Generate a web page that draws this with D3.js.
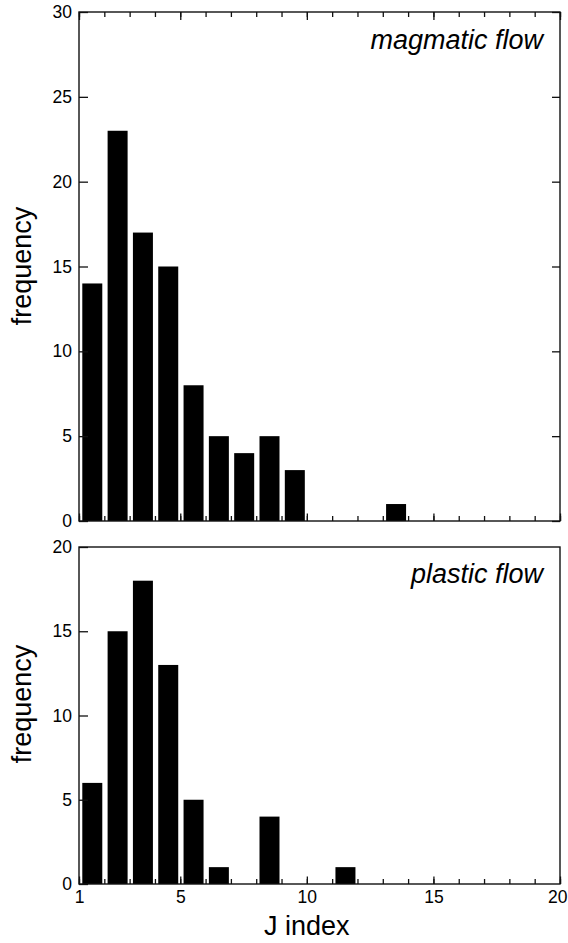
<!DOCTYPE html>
<html>
<head>
<meta charset="utf-8">
<script src="https://cdn.jsdelivr.net/npm/d3@7"></script>
<style>
  html, body { margin: 0; padding: 0; background: #fff; }
  svg { display: block; }
  text { font-family: "Liberation Sans", Arial, Helvetica, sans-serif; fill: #000; }
</style>
</head>
<body>
<svg id="chart" width="568" height="943"></svg>
<script>
// ---- data ----
const binStarts = [1,2,3,4,5,6,7,8,9,10,11,12,13,14,15,16,17,18,19];
const magmaticCounts = [14,23,17,15,8,5,4,5,3,0,0,0,1,0,0,0,0,0,0];
const plasticCounts  = [6,15,18,13,5,1,0,4,0,0,1,0,0,0,0,0,0,0,0];
const xMajorTicks = [1,5,10,15,20];
const xMinorTicks = d3.range(1, 21);
const topYTicks = [0,5,10,15,20,25,30];
const bottomYTicks = [0,5,10,15,20];
const topLabel = "magmatic flow";
const bottomLabel = "plastic flow";
const yTitle = "frequency";
const xTitle = "J index";

const svg = d3.select("#chart");
const left = 79, right = 560;
const tickFont = 17.5;

const x = d3.scaleLinear().domain([1, 20]).range([left, right]);

function panel(cfg) {
  const y = d3.scaleLinear().domain([0, cfg.yMax]).range([cfg.bottom, cfg.top]);
  const g = svg.append("g");

  // bars
  const data = binStarts.map((b, i) => ({bin: b, v: cfg.counts[i]})).filter(d => d.v > 0);
  g.selectAll("rect.bar").data(data).enter().append("rect")
    .attr("class", "bar")
    .attr("x", d => x(d.bin + 0.13))
    .attr("width", d => x(d.bin + 0.92) - x(d.bin + 0.13))
    .attr("y", d => y(d.v))
    .attr("height", d => y(0) - y(d.v))
    .attr("fill", "#000");

  // left axis
  const la = g.append("g").attr("transform", `translate(${left},0)`)
    .call(d3.axisLeft(y).tickValues(cfg.yTicks).tickSizeInner(-9).tickSizeOuter(0).tickPadding(7));
  la.select(".domain").remove();
  la.selectAll("text").attr("font-size", tickFont).style("font-family", "Liberation Sans, Arial, sans-serif");

  if (cfg.mirror) {
    const ra = g.append("g").attr("transform", `translate(${right},0)`)
      .call(d3.axisRight(y).tickValues(cfg.yTicks).tickSizeInner(-8).tickSizeOuter(0).tickFormat(""));
    ra.select(".domain").remove();
    const ta1 = g.append("g").attr("transform", `translate(0,${cfg.top})`)
      .call(d3.axisTop(x).tickValues(xMinorTicks).tickSizeInner(-5).tickSizeOuter(0).tickFormat(""));
    ta1.select(".domain").remove();
    const ta2 = g.append("g").attr("transform", `translate(0,${cfg.top})`)
      .call(d3.axisTop(x).tickValues(xMajorTicks).tickSizeInner(-8).tickSizeOuter(0).tickFormat(""));
    ta2.select(".domain").remove();
  }

  // bottom axis
  const ba1 = g.append("g").attr("transform", `translate(0,${cfg.bottom})`)
    .call(d3.axisBottom(x).tickValues(xMinorTicks).tickSizeInner(-5).tickSizeOuter(0).tickFormat(""));
  ba1.select(".domain").remove();
  const ba2 = g.append("g").attr("transform", `translate(0,${cfg.bottom})`)
    .call(d3.axisBottom(x).tickValues(xMajorTicks).tickSizeInner(-7.5).tickSizeOuter(0).tickPadding(7)
      .tickFormat(cfg.labels ? d3.format("d") : ""));
  ba2.select(".domain").remove();
  ba2.selectAll("text").attr("font-size", tickFont).style("font-family", "Liberation Sans, Arial, sans-serif");
  // keep the last label inside the page edge
  ba2.selectAll("text").filter(d => d === 20)
    .attr("text-anchor", "end").attr("x", 567 - right);

  g.selectAll(".tick line").attr("stroke", "#111").attr("stroke-width", 1.3);

  // frame
  g.append("rect")
    .attr("x", left).attr("y", cfg.top)
    .attr("width", right - left).attr("height", cfg.bottom - cfg.top)
    .attr("fill", "none").attr("stroke", "#111").attr("stroke-width", 1.4);

  // panel label
  g.append("text")
    .attr("x", 543).attr("y", cfg.labelY)
    .attr("text-anchor", "end")
    .attr("font-size", 27).attr("font-style", "italic")
    .text(cfg.label);

  // y title
  g.append("text")
    .attr("transform", `translate(31,${cfg.titleY}) rotate(-90)`)
    .attr("text-anchor", "middle")
    .attr("font-size", 27)
    .text(yTitle);
}

panel({counts: magmaticCounts, yMax: 30, yTicks: topYTicks, top: 12, bottom: 521,
       mirror: true, labels: false, label: topLabel, labelY: 49, titleY: 266});
panel({counts: plasticCounts, yMax: 20, yTicks: bottomYTicks, top: 547, bottom: 884,
       mirror: false, labels: true, label: bottomLabel, labelY: 583, titleY: 704});

svg.append("text")
  .attr("x", x(10)).attr("y", 935)
  .attr("text-anchor", "middle")
  .attr("font-size", 27)
  .text(xTitle);
</script>
</body>
</html>
